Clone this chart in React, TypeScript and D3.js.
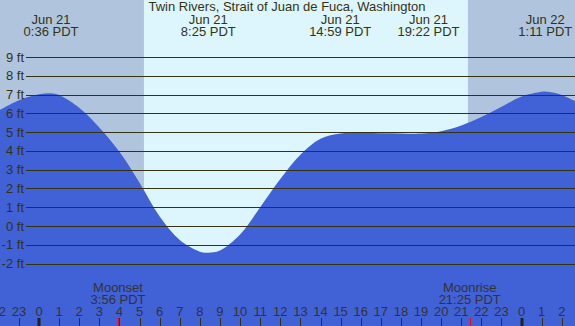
import { area, curveCatmullRom, range, scaleLinear } from "d3";

// hours since Jun 21 00:00 PDT, tide height in ft
const tideHours = [-2, -1, 0, 0.6, 1, 2, 3, 4, 5, 6, 7, 8, 8.42, 9, 10, 11, 12, 13, 14, 15, 16, 17, 18, 19, 20, 21, 22, 23, 24, 25, 25.18, 26, 27];
const tideFt = [6.15, 6.7, 7.02, 7.07, 6.98, 6.3, 5.25, 3.95, 2.3, 0.5, -0.75, -1.37, -1.42, -1.3, -0.45, 1.0, 2.5, 3.8, 4.65, 4.93, 4.95, 4.94, 4.93, 4.92, 5.05, 5.35, 5.8, 6.35, 6.9, 7.15, 7.16, 6.98, 6.45];

const eventHours = [0.6, 8.42, 14.98, 19.37, 25.18];
const eventDays = ["Jun 21", "Jun 21", "Jun 21", "Jun 21", "Jun 22"];
const eventTimes = ["0:36 PDT", "8:25 PDT", "14:59 PDT", "19:22 PDT", "1:11 PDT"];

const sunHours = [5.22, 21.33]; // sunrise, sunset
const moonHours = [3.93, 21.42];
const moonNames = ["Moonset", "Moonrise"];
const moonTimes = ["3:56 PDT", "21:25 PDT"];

const levelTicks = [9, 8, 7, 6, 5, 4, 3, 2, 1, 0, -1, -2];
const hourTicks = range(-2, 27);

const title = "Twin Rivers, Strait of Juan de Fuca, Washington";

const W = 575;
const H = 326;
const FONT = "'Liberation Sans', Arial, sans-serif";
const INK = "#333311";

export default function App() {
    const x = scaleLinear().domain([0, 24]).range([39, 521.6]);
    const y = scaleLinear().domain([0, 9]).range([226, 57]);

    const water = area<number>()
        .x((_, i) => x(tideHours[i]))
        .y0(H)
        .y1((d) => y(d))
        .curve(curveCatmullRom.alpha(0.5))(tideFt);

    return (
        <svg
            width={W}
            height={H}
            style={{ position: "absolute", left: 0, top: 0 }}
            fontFamily={FONT}
        >
            <rect x={0} y={0} width={W} height={H} fill="#b0c4de" />
            <rect
                x={x(sunHours[0])}
                y={0}
                width={x(sunHours[1]) - x(sunHours[0])}
                height={H}
                fill="#ddf6fd"
            />
            <path d={water ?? ""} fill="#4161d6" />

            {levelTicks.map((v) => (
                <g key={`lvl-${v}`}>
                    <line
                        x1={26}
                        x2={W}
                        y1={Math.round(y(v)) + 0.5}
                        y2={Math.round(y(v)) + 0.5}
                        stroke={INK}
                        strokeWidth={1}
                    />
                    <text
                        x={24}
                        y={y(v) + 4.5}
                        textAnchor="end"
                        fontSize={13}
                        fill={INK}
                    >
                        {`${v} ft`}
                    </text>
                </g>
            ))}

            <text x={287} y={11} textAnchor="middle" fontSize={13} fill={INK}>
                {title}
            </text>
            {eventHours.map((h, i) => (
                <g key={`ev-${i}`} fill={INK} fontSize={13}>
                    <text x={x(h)} y={23.5} textAnchor="middle">
                        {eventDays[i]}
                    </text>
                    <text x={x(h)} y={36} textAnchor="middle">
                        {eventTimes[i]}
                    </text>
                </g>
            ))}

            {moonHours.map((h, i) => (
                <g key={`moon-${i}`} fill="#333" fontSize={13}>
                    <text x={x(h)} y={291.5} textAnchor="middle">
                        {moonNames[i]}
                    </text>
                    <text x={x(h)} y={303.5} textAnchor="middle">
                        {moonTimes[i]}
                    </text>
                    <line
                        x1={Math.round(x(h)) + 0.5}
                        x2={Math.round(x(h)) + 0.5}
                        y1={318}
                        y2={H}
                        stroke="red"
                        strokeWidth={1}
                    />
                </g>
            ))}

            {hourTicks.map((h) => {
                const midnight = (h + 24) % 24 === 0;
                const px = Math.round(x(h));
                return (
                    <g key={`hr-${h}`}>
                        <text
                            x={x(h)}
                            y={316}
                            textAnchor="middle"
                            fontSize={13}
                            fill="#333"
                        >
                            {(h + 24) % 24}
                        </text>
                        <line
                            x1={midnight ? px : px + 0.5}
                            x2={midnight ? px : px + 0.5}
                            y1={318}
                            y2={H}
                            stroke={midnight ? "#222" : INK}
                            strokeWidth={midnight ? 3 : 1}
                        />
                    </g>
                );
            })}
        </svg>
    );
}
